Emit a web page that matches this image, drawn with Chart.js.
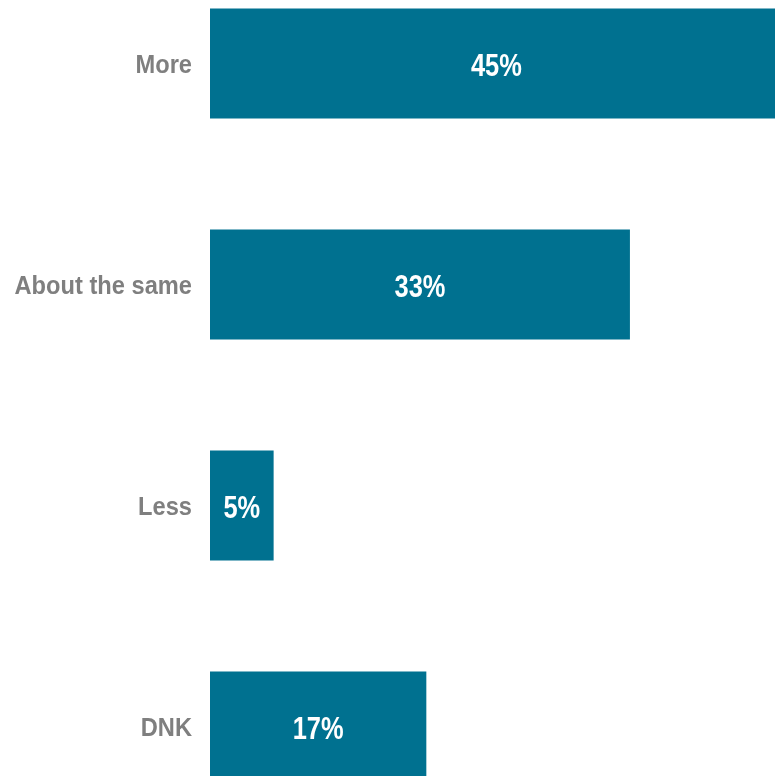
<!DOCTYPE html>
<html>
<head>
<meta charset="utf-8">
<script src="https://cdn.jsdelivr.net/npm/chart.js@4"></script>
<style>
    html, body { margin: 0; padding: 0; width: 775px; height: 776px; overflow: hidden; background: #fff; }
    #barChart { position: absolute; left: 0; top: -47px; }
</style>
</head>
<body>
<canvas id="barChart" width="775" height="884"></canvas>
<script>
// Chart data
const categories = ['More', 'About the same', 'Less', 'DNK'];
const shares = [45, 33, 5, 17];
const valueLabels = ['45%', '33%', '5%', '17%'];

const FONT = '"Liberation Sans", Arial, sans-serif';

// Draw narrow text: the reference uses a condensed face, so squeeze a normal one
function narrowText(ctx, text, x, y, sx, align) {
    ctx.save();
    ctx.translate(x, y);
    ctx.scale(sx, 1);
    ctx.textAlign = align;
    ctx.fillText(text, 0, 0);
    ctx.restore();
}

// Category names on the left and values inside the bars
const barLabels = {
    id: 'barLabels',
    afterDatasetsDraw(chart) {
        const ctx = chart.ctx;
        const meta = chart.getDatasetMeta(0);
        const area = chart.chartArea;
        ctx.save();
        ctx.textBaseline = 'alphabetic';

        ctx.fillStyle = '#7f7f7f';
        ctx.font = 'bold 26px ' + FONT;
        meta.data.forEach((bar, i) => {
            narrowText(ctx, categories[i], area.left - 18, bar.y + 9.5, 0.91, 'right');
        });

        ctx.fillStyle = '#ffffff';
        ctx.font = 'bold 31px ' + FONT;
        meta.data.forEach((bar, i) => {
            const cx = (bar.base + bar.x) / 2;
            narrowText(ctx, valueLabels[i], cx, bar.y + 12, 0.82, 'center');
        });
        ctx.restore();
    }
};

document.addEventListener('DOMContentLoaded', function() {
    const ctx = document.getElementById('barChart').getContext('2d');
    new Chart(ctx, {
        type: 'bar',
        data: {
            labels: categories,
            datasets: [{
                data: shares,
                backgroundColor: '#007190',
                borderWidth: 0,
                categoryPercentage: 1,
                barPercentage: 0.498
            }]
        },
        options: {
            indexAxis: 'y',
            responsive: false,
            animation: false,
            layout: { padding: { left: 210, right: 0, top: 0, bottom: 0 } },
            plugins: {
                legend: { display: false },
                tooltip: { enabled: false }
            },
            scales: {
                x: { display: false, min: 0, max: 44.4 },
                y: { display: false }
            }
        },
        plugins: [barLabels]
    });
});
</script>
</body>
</html>
